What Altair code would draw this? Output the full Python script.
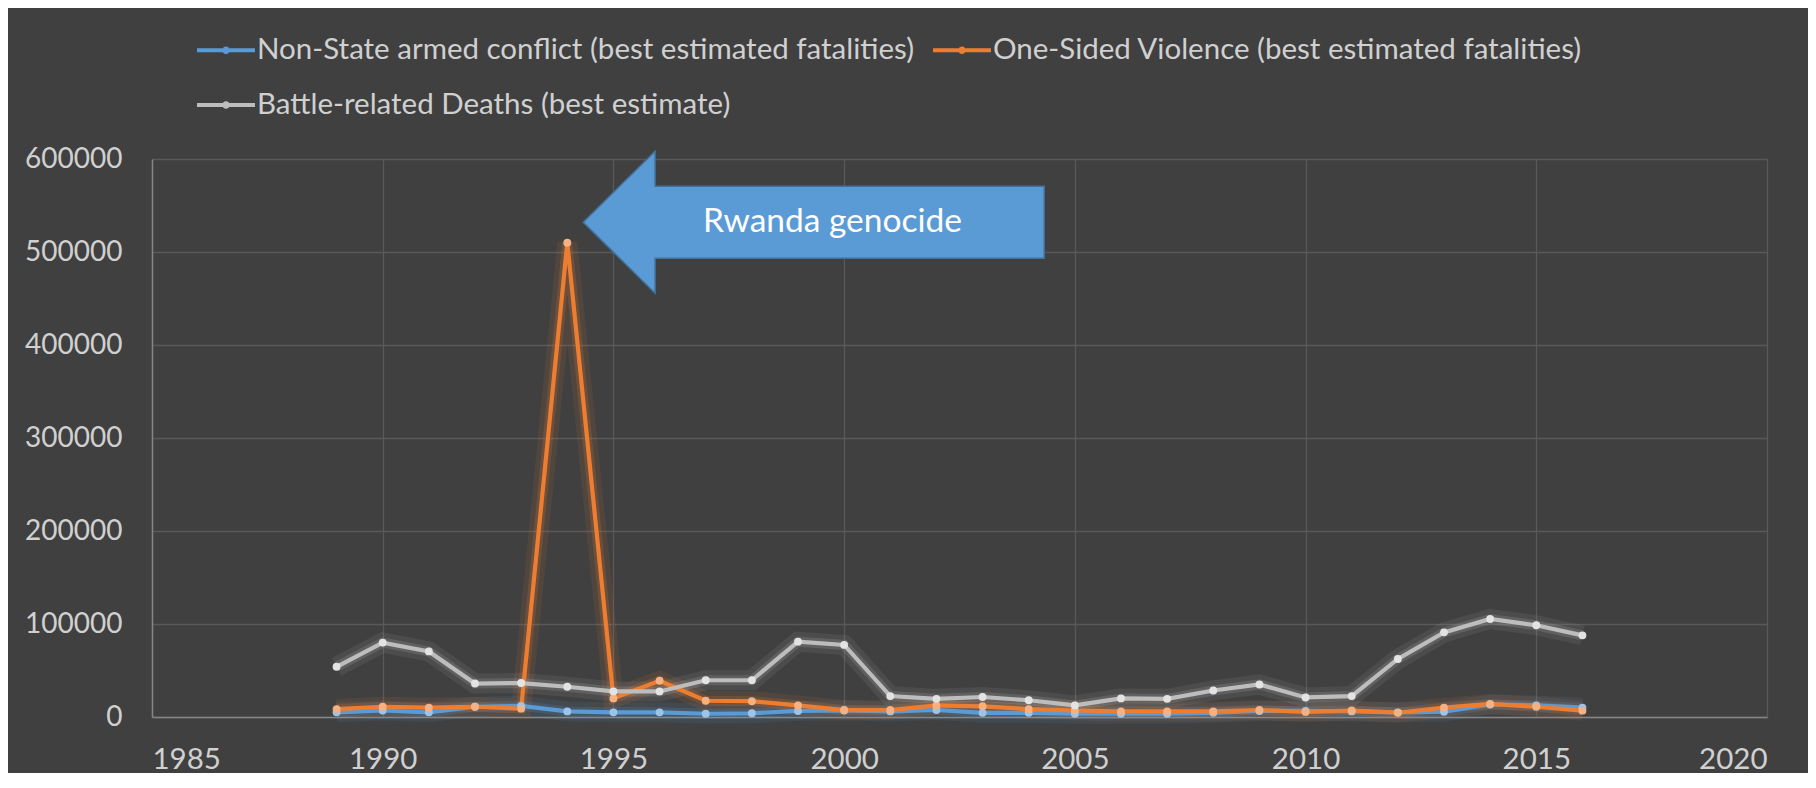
import altair as alt
import pandas as pd

years = list(range(1989, 2017))
non_state = [5000, 7000, 5000, 11000, 12000, 6000, 5000, 5000, 3500, 4000,
             6500, 7000, 6000, 7500, 4500, 4500, 3500, 3500, 3500, 4500,
             6500, 6500, 6000, 5000, 5700, 13500, 12500, 10000]
one_sided = [8500, 11000, 10000, 11000, 9000, 510000, 20000, 39000, 17500, 17000,
             12500, 7500, 7500, 12500, 11500, 8500, 7000, 6000, 6000, 6000,
             7500, 5500, 7000, 4600, 10000, 14000, 11000, 6800]
battle = [54000, 80000, 70500, 36000, 36500, 32500, 27500, 27500, 39500, 39500,
          81000, 77500, 22500, 19500, 21500, 18000, 12500, 20000, 19500, 28500,
          35000, 21000, 22500, 62400, 91000, 105400, 98600, 87800]

series_names = [
    "Non-State armed conflict (best estimated fatalities)",
    "One-Sided Violence (best estimated fatalities)",
    "Battle-related Deaths (best estimate)",
]
line_colors = ["#5b9bd5", "#ed7d31", "#bdbdbd"]
marker_colors = ["#9dc3e6", "#f4b183", "#e3e3e3"]
x_ticks = [1985, 1990, 1995, 2000, 2005, 2010, 2015, 2020]
y_ticks = [0, 100000, 200000, 300000, 400000, 500000, 600000]

annotation_text = "Rwanda genocide"
arrow_x = [1999.34]
arrow_y = [532000]
label_x = [1996.94]
label_y = [532000]

rows = []
for name, vals in zip(series_names, [non_state, one_sided, battle]):
    for yr, v in zip(years, vals):
        rows.append({"series": name, "year": yr, "value": v})
df = pd.DataFrame(rows)

FONT = "Lato"
TEXT = "#d0d0d0"

xenc = alt.X("year:Q", scale=alt.Scale(domain=[1985, 2020], nice=False, zero=False),
             axis=alt.Axis(values=x_ticks, format="d", title=None))
yenc = alt.Y("value:Q", scale=alt.Scale(domain=[0, 600000], nice=False),
             axis=alt.Axis(values=y_ticks, format="d", title=None))

legend_symbol = "M-1.26,0H1.26M0.08,0A0.08,0.08 0 1,1 -0.08,0A0.08,0.08 0 1,1 0.08,0"
color_enc = alt.Color(
    "series:N",
    scale=alt.Scale(domain=series_names, range=line_colors),
    sort=series_names,
    legend=alt.Legend(
        title=None, orient="none", legendX=49, legendY=-134, columns=2,
        direction="horizontal", symbolType=legend_symbol, symbolSize=2116,
        symbolStrokeWidth=3.8, labelOffset=6, labelFont=FONT, labelFontSize=29.5,
        labelColor=TEXT, labelLimit=2000, columnPadding=10, rowPadding=15,
        padding=0, symbolOpacity=1,
    ),
)

base = alt.Chart(df)
glow1 = base.mark_line(strokeWidth=20, opacity=0.10).encode(x=xenc, y=yenc, color=color_enc)
glow2 = base.mark_line(strokeWidth=10, opacity=0.18).encode(x=xenc, y=yenc, color=color_enc)
lines = base.mark_line(strokeWidth=4.2).encode(x=xenc, y=yenc, color=color_enc)
points = base.mark_circle(size=62, opacity=1).encode(
    x=xenc, y=yenc,
    fill=alt.Fill("series:N", scale=alt.Scale(domain=series_names, range=marker_colors), legend=None),
)

arrow_path = "M-1,0 L-0.688,-0.308 L-0.688,-0.156 L1,-0.156 L1,0.156 L-0.688,0.156 L-0.688,0.308 Z"
arrow = alt.Chart(pd.DataFrame({"x": arrow_x, "y": arrow_y})).mark_point(
    shape=arrow_path, size=461 * 461, filled=True, fill="#5b9bd5", fillOpacity=1,
    stroke="#41719c", strokeWidth=1.5, strokeOpacity=1, opacity=1,
).encode(x=alt.X("x:Q"), y=alt.Y("y:Q"))
label = alt.Chart(pd.DataFrame({"x": label_x, "y": label_y, "t": [annotation_text]})).mark_text(
    align="left", baseline="middle", font=FONT, fontSize=33.5, color="#ffffff",
).encode(x=alt.X("x:Q"), y=alt.Y("y:Q"), text="t:N")

chart = alt.layer(glow1, glow2, lines, points, arrow, label).properties(
    width=1615, height=558,
    padding={"left": 144, "top": 151, "right": 41, "bottom": 56},
    autosize=alt.AutoSizeParams(type="none"),
    background="#404040",
).configure_view(stroke="transparent").configure_axis(
    gridColor="#595959", gridWidth=1.3, domainColor="#858585", domainWidth=1.5,
    tickSize=0, labelFont=FONT, labelFontSize=28, labelColor=TEXT,
).configure_axisX(
    labelBaseline="alphabetic", labelPadding=51, labelFontSize=29.5,
).configure_axisY(
    labelPadding=30,
)

chart.save("out.html", embed_options={"renderer": "svg", "actions": False})
